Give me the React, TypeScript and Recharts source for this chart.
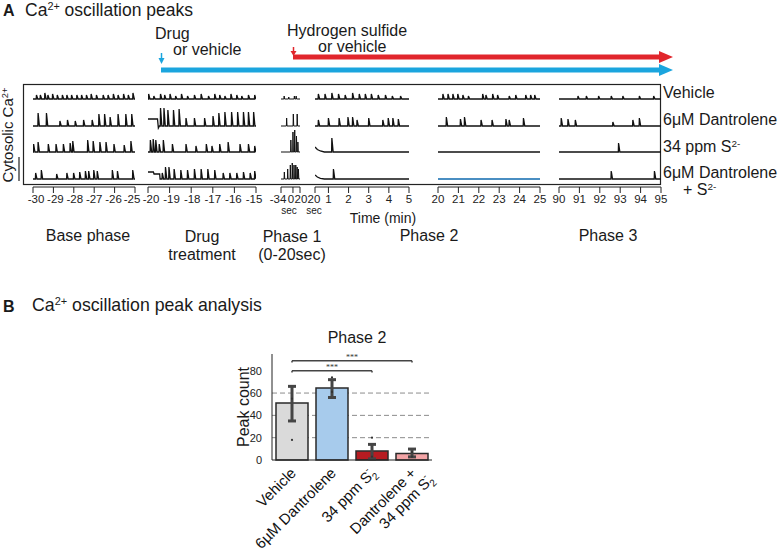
import React from 'react';
import {
  LineChart, Line, XAxis, YAxis, ComposedChart, Bar, Cell, ErrorBar,
  CartesianGrid, ReferenceLine, Scatter,
} from 'recharts';

const FONT = '"Liberation Sans", Arial, Helvetica, sans-serif';
const BLUE = '#1ba5de';
const RED = '#e1262c';

// ---------- panel A: spike trains, [time, spike height] ----------
type Spike = [number, number];

const baseTicks = [-30, -29, -28, -27, -26, -25];
const drugTicks = [-20, -19, -18, -17, -16, -15];
const phase1Ticks = [-34, 0, 20]; // seconds
const earlyTicks = [20 / 60, 1, 2, 3, 4, 5];
const phase2Ticks = [20, 21, 22, 23, 24, 25];
const phase3Ticks = [90, 91, 92, 93, 94, 95];

const baseVehicle: Spike[] = [[-29.83, 4], [-29.64, 4], [-29.42, 6], [-29.27, 4], [-29.04, 5], [-28.81, 4], [-28.56, 4], [-28.34, 4], [-28.11, 4], [-27.85, 4], [-27.62, 4], [-27.38, 4], [-27.15, 5], [-26.89, 4], [-26.56, 4], [-26.32, 4], [-26.06, 5], [-25.83, 4], [-25.56, 5], [-25.33, 4], [-25.1, 6]];
const baseDantrolene: Spike[] = [[-29.75, 13], [-29.34, 13], [-28.68, 5], [-28.31, 6], [-27.93, 5], [-27.52, 6], [-27.1, 6], [-26.77, 12], [-26.49, 12], [-26.22, 9], [-25.83, 12], [-25.45, 12], [-25.16, 12]];
const baseSulfide: Spike[] = [[-29.97, 8], [-29.75, 10], [-29.25, 8], [-28.87, 8], [-28.51, 8], [-28.18, 9], [-28.05, 11], [-27.32, 12], [-27.05, 11], [-26.72, 10], [-26.42, 10], [-26.03, 8], [-25.53, 7], [-25.2, 11]];
const baseCombo: Spike[] = [[-29.87, 6], [-29.59, 9], [-28.84, 5], [-28.34, 6], [-28.01, 6], [-27.71, 7], [-27.43, 8], [-27.27, 8], [-27.02, 9], [-26.85, 8], [-26.11, 9], [-25.86, 8], [-25.11, 9]];

const drugVehicle: Spike[] = [[-19.97, 5], [-19.73, 3], [-19.42, 5], [-19.23, 4], [-18.98, 5], [-18.72, 3], [-18.45, 5], [-18.17, 3], [-17.85, 4], [-17.54, 5], [-17.2, 3], [-16.91, 5], [-16.68, 4], [-16.44, 3], [-16.16, 5], [-15.89, 4], [-15.66, 3], [-15.35, 4], [-15.06, 4]];
const drugDantrolene: Spike[] = [[-19.42, 18], [-19.26, 18], [-19.08, 16], [-18.82, 16], [-18.56, 17], [-18.24, 8], [-17.85, 8], [-17.38, 8], [-16.99, 10], [-16.72, 13], [-16.44, 14], [-16.13, 14], [-15.85, 14], [-15.58, 14], [-15.35, 14], [-15.11, 14]];
const drugSulfide: Spike[] = [[-19.89, 12], [-19.76, 13], [-19.64, 12], [-19.48, 8], [-19.29, 12], [-18.87, 8], [-18.24, 8], [-17.78, 6], [-17.3, 8], [-17.04, 6], [-16.68, 8], [-16.29, 10], [-15.74, 8], [-15.35, 8], [-15.06, 6]];
const drugCombo: Spike[] = [[-19.34, 6], [-19.19, 12], [-19.03, 12], [-18.79, 10], [-18.48, 9], [-18.17, 9], [-17.85, 10], [-17.54, 10], [-17.23, 10], [-16.91, 9], [-16.52, 6], [-16.21, 6], [-15.89, 6], [-15.58, 7], [-15.27, 6], [-15.06, 8]];
const drugDantroleneDrift: Spike[] = [[-20, 7], [-19.56, 7], [-19.52, -2], [-19.47, 0]];
const drugComboDrift: Spike[] = [[-20, 7], [-19.75, 7], [-19.72, 5], [-19.46, 5], [-19.44, 0]];

const p1Vehicle: Spike[] = [[-25, 3], [-12, 2], [4, 3], [9, 3]];
const p1Dantrolene: Spike[] = [[-18, 8], [1, 12], [12, 12]];
const p1Sulfide: Spike[] = [[-6, 12], [0, 20], [5, 22], [10, 16], [14, 10]];
const p1Combo: Spike[] = [[-24.5, 7], [-15, 10], [-7.5, 14], [-2, 16], [3, 14], [8, 14], [12, 12], [15.5, 10]];

const earlyVehicle: Spike[] = [[0.5, 5], [0.83, 5], [1.17, 6], [1.5, 5], [1.83, 4], [2.2, 6], [2.53, 5], [2.83, 5], [3.13, 5], [3.47, 4], [3.83, 4], [4.17, 3], [4.58, 3]];
const earlyDantrolene: Spike[] = [[0.5, 6], [1.0, 8], [1.53, 8], [1.97, 9], [2.2, 9], [2.42, 6], [3.0, 8], [3.7, 6], [3.97, 8], [4.2, 8], [4.47, 7]];
const earlySulfide: Spike[] = [[1.17, 14]];
const earlyCombo: Spike[] = [[1.25, 10]];
const earlySulfideDrift: Spike[] = [[20 / 60, 5], [0.45, 2.5], [0.6, 1], [0.8, 0]];
const earlyComboDrift: Spike[] = [[20 / 60, 4], [0.45, 2], [0.6, 0.7], [0.8, 0]];

const p2Vehicle: Spike[] = [[20.24, 5], [20.49, 5], [20.73, 5], [20.97, 5], [21.22, 4], [21.49, 3], [22.19, 5], [22.35, 4], [22.68, 5], [22.92, 4], [23.49, 3], [23.81, 4], [24.3, 4], [24.54, 4], [24.74, 4]];
const p2Dantrolene: Spike[] = [[20.41, 9], [21.1, 7], [21.3, 9], [22.11, 6], [22.65, 6], [23.33, 7], [23.49, 6], [24.19, 8]];
const p2Sulfide: Spike[] = [];
const p2Combo: Spike[] = [];

const p3Vehicle: Spike[] = [[90.93, 3], [91.34, 3], [91.94, 3], [92.56, 3], [93.13, 3], [93.94, 3], [94.64, 3]];
const p3Dantrolene: Spike[] = [[90.11, 8], [90.44, 7], [90.8, 6], [92.64, 4], [93.62, 6], [93.94, 8]];
const p3Sulfide: Spike[] = [[92.92, 9]];
const p3Combo: Spike[] = [[92.56, 8], [94.68, 8]];

const segDomains: [number, number][] = [[-30, -25], [-20, -15], [-34, 20], [20 / 60, 5], [20, 25], [90, 95]];
const segTicks = [baseTicks, drugTicks, phase1Ticks, earlyTicks, phase2Ticks, phase3Ticks];
const segTickLabels: (string[] | null)[] = [null, null, ['-34', '0', '20'], ['20', '1', '2', '3', '4', '5'], null, null];
const segSpikes = [
  [baseVehicle, baseDantrolene, baseSulfide, baseCombo],
  [drugVehicle, drugDantrolene, drugSulfide, drugCombo],
  [p1Vehicle, p1Dantrolene, p1Sulfide, p1Combo],
  [earlyVehicle, earlyDantrolene, earlySulfide, earlyCombo],
  [p2Vehicle, p2Dantrolene, p2Sulfide, p2Combo],
  [p3Vehicle, p3Dantrolene, p3Sulfide, p3Combo],
];
const segDrift: Spike[][][] = [
  [[], [], [], []],
  [[], drugDantroleneDrift, [], drugComboDrift],
  [[], [], [], []],
  [[], [], earlySulfideDrift, earlyComboDrift],
  [[], [], [], []],
  [[], [], [], []],
];

// layout of the trace panel
const segX: [number, number][] = [[33, 135], [148, 256], [281, 300], [315, 409], [438, 540], [559, 661]];
const fallPx = [1.3, 1.3, 0.4, 1.3, 1.3, 1.3];
const strokePx = [1.3, 1.3, 1.0, 1.3, 1.3, 1.3];
const tickDx: Record<number, number[]> = {
  0: [3, 2, 1, 0, -1, -3],
  1: [3, 2, 1, 0, -1, -2],
  2: [-3, -2, 1],
  3: [-1, 0, 0, 0, 0, 0],
};
const secTick: Record<number, [number, number]> = { 2: [1, -4], 3: [0, -1] }; // [tick index, dx]
const ROW_BASE = [88, 61, 35, 8];
const PLOT_H = 103;
const PAD = 14;

function buildTrace(domain: [number, number], spikes: Spike[], drift: Spike[], pxUnit: number, fall: number) {
  const [lo, hi] = domain;
  const events = [
    ...drift.map(([t, v]) => ({ t, v, d: true })),
    ...spikes.map(([t, v]) => ({ t, v, d: false })),
  ].sort((a, b) => a.t - b.t);
  const pts: { t: number; v: number }[] = [];
  let level = 0;
  if (!drift.length || drift[0][0] > lo) pts.push({ t: lo, v: 0 });
  for (const e of events) {
    if (e.d) {
      level = e.v;
      pts.push({ t: e.t, v: level });
    } else {
      pts.push({ t: e.t - 0.25 * pxUnit, v: level });
      pts.push({ t: e.t, v: level + e.v });
      pts.push({ t: e.t + fall * pxUnit, v: level });
    }
  }
  pts.push({ t: hi, v: level });
  return pts;
}

function TraceSegment({ i }: { i: number }) {
  const [x0, x1] = segX[i];
  const domain = segDomains[i];
  const ticks = segTicks[i];
  const labels = segTickLabels[i];
  const pxUnit = (domain[1] - domain[0]) / (x1 - x0);
  const renderTick = (p: any) => {
    const idx = ticks.indexOf(p.payload.value);
    const label = labels ? labels[idx] : String(p.payload.value);
    const dx = tickDx[i] ? tickDx[i][idx] : 0;
    const sec = secTick[i] && secTick[i][0] === idx;
    return (
      <g>
        <text x={p.x + dx} y={p.y} dy="0.71em" textAnchor="middle" fontSize={11.5} fill="#222" fontFamily={FONT}>{label}</text>
        {sec && (
          <text x={p.x + secTick[i][1]} y={p.y + 12} dy="0.71em" textAnchor="middle" fontSize={10} fill="#222" fontFamily={FONT}>sec</text>
        )}
      </g>
    );
  };
  return (
    <div style={{ position: 'absolute', left: x0 - PAD, top: 84 }}>
      <LineChart width={x1 - x0 + 2 * PAD} height={PLOT_H + 30} margin={{ top: 0, right: PAD, left: PAD, bottom: 0 }}>
        <XAxis type="number" dataKey="t" domain={domain} ticks={ticks} interval={0} allowDataOverflow
          height={30} tickSize={6} stroke="#222" tick={renderTick} />
        <YAxis hide type="number" domain={[0, PLOT_H]} allowDataOverflow />
        {segSpikes[i].map((spikes, r) => (
          <Line key={r} type="linear" dataKey="v" dot={false} isAnimationActive={false}
            stroke={i === 4 && r === 3 ? '#4a8ec2' : '#111'} strokeWidth={i === 4 && r === 3 ? 1.8 : strokePx[i]}
            data={buildTrace(domain, spikes, segDrift[i][r], pxUnit, fallPx[i]).map((p) => ({ t: p.t, v: p.v + ROW_BASE[r] }))} />
        ))}
      </LineChart>
    </div>
  );
}

// ---------- panel B: peak counts ----------
const groupNames = ['Vehicle', '6µM Dantrolene', '34 ppm S2-', 'Dantrolene + 34 ppm S2-'];
const peakMeans = [51, 64.5, 8, 5.8];
const errLow = [16, 8.5, 7, 3];
const errHigh = [15, 7.5, 6, 4];
const barColors = ['#dadada', '#a7cbec', '#b61b21', '#f3a4a6'];
const Y_MAX = 95;
const yTicks = [0, 20, 40, 60, 80];
const gridValues = [20, 40, 60];
const pointGroups = ['Vehicle', 'Vehicle', '6µM Dantrolene', '6µM Dantrolene', '34 ppm S2-', '34 ppm S2-', 'Dantrolene + 34 ppm S2-', 'Dantrolene + 34 ppm S2-'];
const pointValues = [18, 55, 74, 61, 20, 3, 3, 7];
const brackets = [
  { from: 'Vehicle', to: '34 ppm S2-', y: 80 },
  { from: 'Vehicle', to: 'Dantrolene + 34 ppm S2-', y: 89 },
];

const barData = groupNames.map((name, i) => ({ name, mean: peakMeans[i], err: [errLow[i], errHigh[i]] }));
const pointData = pointGroups.map((name, i) => ({ name, y: pointValues[i] }));

function chem(s: string) {
  if (!s.endsWith('S2-')) return s;
  return [
    s.slice(0, -2),
    <tspan key="a" dy={4} fontSize={10}>2</tspan>,
    <tspan key="b" dx={-6} dy={-11} fontSize={10}>-</tspan>,
  ];
}

function BarTick(p: any) {
  const lines = String(p.payload.value).split(' + ');
  if (lines.length > 1) lines[0] += ' +';
  return (
    <g transform={`translate(${p.x + 5},${p.y + 6}) rotate(-45)`}>
      {lines.map((ln, k) => (
        <text key={k} x={k * 8} y={k * 17} textAnchor="end" fontSize={15} fill="#111" fontFamily={FONT}>{chem(ln)}</text>
      ))}
    </g>
  );
}

const gridCoords = ({ yAxis, offset }: any) =>
  gridValues.map((v) =>
    yAxis && typeof yAxis.scale === 'function'
      ? yAxis.scale(v)
      : offset.top + offset.height * (1 - v / Y_MAX));

const txt = (extra: React.CSSProperties): React.CSSProperties => ({
  position: 'absolute', fontFamily: FONT, lineHeight: 1, whiteSpace: 'nowrap', color: '#1a1a1a', ...extra,
});
const sup: React.CSSProperties = { fontSize: '0.62em', position: 'relative', top: '-0.55em' };

export default function App() {
  return (
    <div style={{ position: 'absolute', left: 0, top: 0, width: 780, height: 555, background: '#fff', overflow: 'hidden' }}>
      {/* headings */}
      <div style={txt({ left: 3, top: 3, fontSize: 16, fontWeight: 'bold' })}>A</div>
      <div style={txt({ left: 25, top: 2, fontSize: 17.5 })}>Ca<span style={sup}>2+</span> oscillation peaks</div>
      <div style={txt({ left: 155, top: 26, fontSize: 16 })}>Drug</div>
      <div style={txt({ left: 173, top: 42, fontSize: 16 })}>or vehicle</div>
      <div style={txt({ left: 287, top: 23, fontSize: 16 })}>Hydrogen sulfide</div>
      <div style={txt({ left: 318, top: 39, fontSize: 16 })}>or vehicle</div>

      <svg width={780} height={555} style={{ position: 'absolute', left: 0, top: 0 }}>
        <line x1={161} y1={70} x2={662} y2={70} stroke={BLUE} strokeWidth={5} />
        <polygon points="659,64 673,70 659,76" fill={BLUE} />
        <line x1={293} y1={57} x2={662} y2={57} stroke={RED} strokeWidth={5} />
        <polygon points="659,51 673,57 659,63" fill={RED} />
        <line x1={161.5} y1={53} x2={161.5} y2={59} stroke={BLUE} strokeWidth={1.5} />
        <polygon points="158.5,58 164.5,58 161.5,64" fill={BLUE} />
        <line x1={293.5} y1={47} x2={293.5} y2={52} stroke={RED} strokeWidth={1.5} />
        <polygon points="290.5,51 296.5,51 293.5,56" fill={RED} />
        <rect x={23.5} y={84.5} width={637} height={100} fill="none" stroke="#222" strokeWidth={1.2} />
        <line x1={19} y1={157} x2={19} y2={181} stroke="#222" strokeWidth={1.2} />
      </svg>

      <div style={txt({ left: 8, top: 135, fontSize: 15, transform: 'translate(-50%,-50%) rotate(-90deg)' })}>
        Cytosolic Ca<span style={sup}>2+</span>
      </div>

      {segX.map((_, i) => <TraceSegment key={i} i={i} />)}

      <div style={txt({ left: 663, top: 85, fontSize: 16 })}>Vehicle</div>
      <div style={txt({ left: 663, top: 112, fontSize: 16 })}>6μM Dantrolene</div>
      <div style={txt({ left: 663, top: 139, fontSize: 16 })}>34 ppm S<span style={sup}>2-</span></div>
      <div style={txt({ left: 663, top: 165, fontSize: 16 })}>6μM Dantrolene</div>
      <div style={txt({ left: 683, top: 182, fontSize: 16 })}>+ S<span style={sup}>2-</span></div>

      <div style={txt({ left: 383, top: 211, fontSize: 14, transform: 'translateX(-50%)' })}>Time (min)</div>
      <div style={txt({ left: 88, top: 228, fontSize: 16, transform: 'translateX(-50%)' })}>Base phase</div>
      <div style={txt({ left: 202, top: 228, fontSize: 16, transform: 'translateX(-50%)', textAlign: 'center', lineHeight: '18px' })}>Drug<br />treatment</div>
      <div style={txt({ left: 292, top: 228, fontSize: 16, transform: 'translateX(-50%)', textAlign: 'center', lineHeight: '18px' })}>Phase 1<br />(0-20sec)</div>
      <div style={txt({ left: 429, top: 228, fontSize: 16, transform: 'translateX(-50%)' })}>Phase 2</div>
      <div style={txt({ left: 608, top: 228, fontSize: 16, transform: 'translateX(-50%)' })}>Phase 3</div>

      {/* panel B */}
      <div style={txt({ left: 3, top: 299, fontSize: 16, fontWeight: 'bold' })}>B</div>
      <div style={txt({ left: 32, top: 297, fontSize: 17.7 })}>Ca<span style={sup}>2+</span> oscillation peak analysis</div>
      <div style={txt({ left: 357, top: 330, fontSize: 16, transform: 'translateX(-50%)' })}>Phase 2</div>
      <div style={txt({ left: 244, top: 407, fontSize: 16, transform: 'translate(-50%,-50%) rotate(-90deg)' })}>Peak count</div>

      <div style={{ position: 'absolute', left: 200, top: 320 }}>
        <ComposedChart width={260} height={235} data={barData} margin={{ top: 34, right: 28, left: 47, bottom: 0 }}>
          <CartesianGrid vertical={false} horizontalCoordinatesGenerator={gridCoords} strokeDasharray="5 3" stroke="#8c8c8c" />
          <XAxis dataKey="name" type="category" allowDuplicatedCategory={false} interval={0} height={95}
            tickLine={false} axisLine={{ stroke: '#222' }} tick={BarTick} />
          <XAxis xAxisId="top" orientation="top" dataKey="name" allowDuplicatedCategory={false} height={0}
            tick={false} tickLine={false} axisLine={{ stroke: '#222' }} />
          <YAxis domain={[0, Y_MAX]} ticks={yTicks} width={25} tickLine={false} tickMargin={4}
            axisLine={{ stroke: '#222' }} tick={{ fontSize: 11, fill: '#222', fontFamily: FONT }} />
          <YAxis yAxisId="right" orientation="right" width={0} tick={false} tickLine={false} axisLine={{ stroke: '#222' }} />
          <Bar dataKey="mean" barSize={32} stroke="#2a2a2a" strokeWidth={1.5} isAnimationActive={false}>
            {barData.map((d, i) => <Cell key={d.name} fill={barColors[i]} />)}
            <ErrorBar dataKey="err" width={4} strokeWidth={3} stroke="#454545" direction="y" />
          </Bar>
          <Scatter data={pointData} dataKey="y" isAnimationActive={false}
            shape={(p: any) => <circle cx={p.cx} cy={p.cy} r={1.1} fill="#333" />} />
          {brackets.map((b) => (
            <ReferenceLine key={b.to} segment={[{ x: b.from, y: b.y }, { x: b.to, y: b.y }]}
              stroke="#444" strokeWidth={1.5}
              label={{ value: '***', position: 'top', fontSize: 8, fill: '#333', offset: 1 }} />
          ))}
          {brackets.flatMap((b) => [b.from, b.to].map((x) => (
            <ReferenceLine key={b.to + x} segment={[{ x, y: b.y }, { x, y: b.y - 1.6 }]} stroke="#444" strokeWidth={1.5} />
          )))}
        </ComposedChart>
      </div>
    </div>
  );
}
